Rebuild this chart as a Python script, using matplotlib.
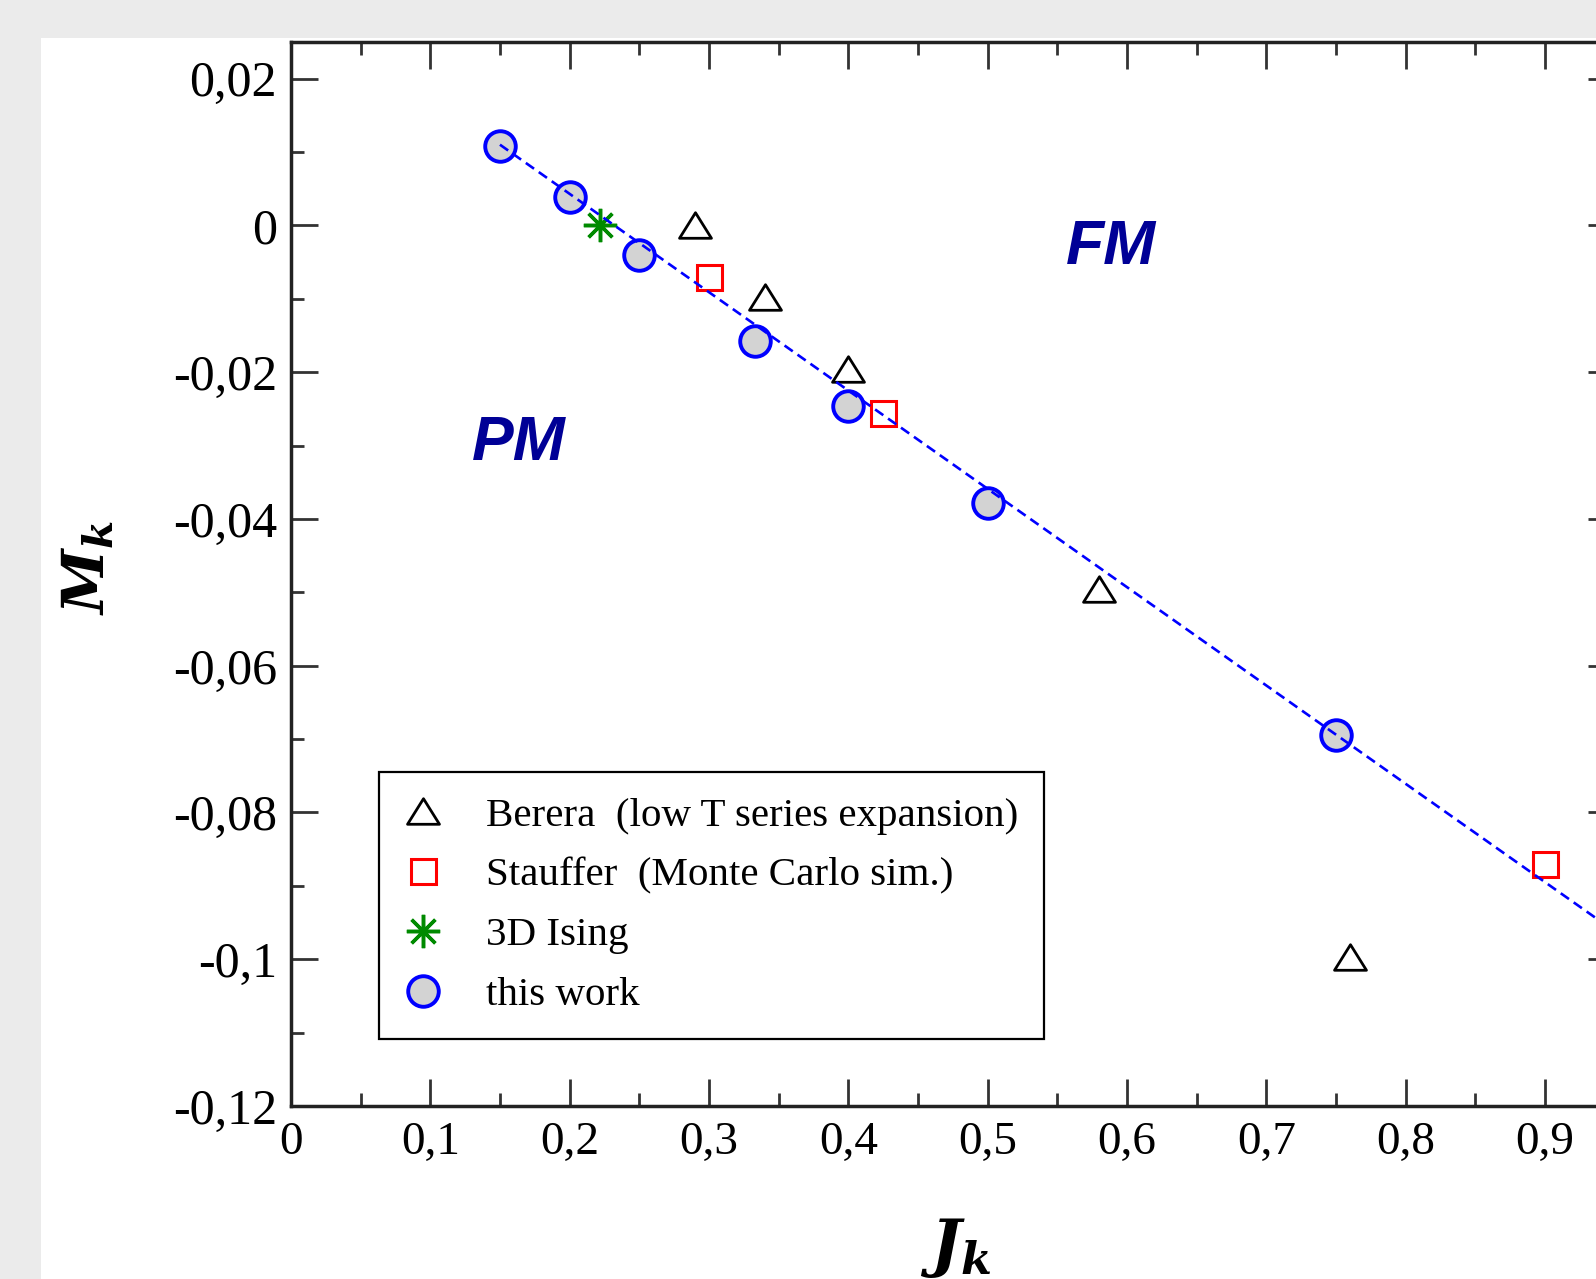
import matplotlib
matplotlib.use("Agg")
import matplotlib.pyplot as plt
from matplotlib.path import Path
from matplotlib.patches import Rectangle
from matplotlib.ticker import MultipleLocator, FuncFormatter

# data (J_k, M_k)
berera_j = [0.29, 0.34, 0.40, 0.58, 0.76]
berera_m = [0.0, -0.0097, -0.0196, -0.0495, -0.0997]

stauffer_j = [0.30, 0.425, 0.90]
stauffer_m = [-0.0071, -0.0255, -0.0870]

ising_j = [0.2216]
ising_m = [0.0]

work_j = [0.15, 0.20, 0.25, 0.3333, 0.40, 0.50, 0.75]
work_m = [0.0108, 0.0039, -0.0040, -0.0157, -0.0246, -0.0378, -0.0695]

fit_j = [0.15, 0.95]
fit_m = [0.0110, -0.0962]

labels = ["Berera  (low T series expansion)", "Stauffer  (Monte Carlo sim.)",
          "3D Ising", "this work"]

plt.rcParams['mathtext.fontset'] = 'custom'
plt.rcParams['mathtext.it'] = 'DejaVu Serif:italic:bold'
plt.rcParams['mathtext.rm'] = 'DejaVu Serif:bold'

fig = plt.figure(figsize=(15.96, 12.79), dpi=100)
fig.patch.set_facecolor('#ebebeb')
# white page area, gray strip left and top
fig.add_artist(Rectangle((41 / 1596, 0), 1, 1 - 38 / 1279, transform=fig.transFigure,
                         facecolor='white', edgecolor='none', zorder=-10))

ax = fig.add_axes([0.1823, 0.1353, 0.8294, 0.8319])
ax.patch.set_alpha(0)

# wider-than-tall triangle
tri = Path([(-1, -0.8), (1, -0.8), (0, 0.8), (-1, -0.8)], closed=True)

ax.plot(berera_j, berera_m, ls='none', marker=tri, ms=23, mfc='none', mec='black',
        mew=2, label=labels[0], zorder=3)
ax.plot(stauffer_j, stauffer_m, ls='none', marker='s', ms=18, mfc='none', mec='red',
        mew=2.2, label=labels[1], zorder=3)
ax.plot(ising_j, ising_m, ls='none', marker=(8, 2, 0), ms=24, mec='#008a00',
        mew=2.5, label=labels[2], zorder=3)
ax.plot(work_j, work_m, ls='none', marker='o', ms=22, mfc='#d3d3d3', mec='blue',
        mew=2.8, label=labels[3], zorder=3)
ax.plot(fit_j, fit_m, color='blue', lw=1.9, ls=(0, (3.8, 2.2)), zorder=4)

ax.set_xlim(0, 0.95)
ax.set_ylim(-0.12, 0.025)

fmt = FuncFormatter(lambda v, p: ('%g' % (round(v, 6) + 0.0)).replace('.', ','))
ax.xaxis.set_major_locator(MultipleLocator(0.1))
ax.xaxis.set_minor_locator(MultipleLocator(0.05))
ax.yaxis.set_major_locator(MultipleLocator(0.02))
ax.yaxis.set_minor_locator(MultipleLocator(0.01))
ax.xaxis.set_major_formatter(fmt)
ax.yaxis.set_major_formatter(fmt)

ax.tick_params(which='both', direction='in', top=True, right=True, width=2, color='#333333')
ax.tick_params(which='major', length=19.5)
ax.tick_params(which='minor', length=9.5)
ax.tick_params(axis='y', pad=10)
ax.tick_params(axis='x', pad=11)
for lab in ax.get_xticklabels():
    lab.set_fontfamily('Liberation Serif')
    lab.set_fontsize(34)
for lab in ax.get_yticklabels():
    lab.set_fontfamily('Liberation Serif')
    lab.set_fontsize(36)
for sp in ax.spines.values():
    sp.set_linewidth(2.5)
    sp.set_color('#222222')

ax.set_xlabel('$J_k$', fontsize=46, va='top')
ax.xaxis.set_label_coords(0.502, -0.103)
ax.set_ylabel('$M_k$', fontsize=42, va='center')
ax.yaxis.set_label_coords(-0.154, 0.506)

ax.text(0.5885, -0.0052, 'FM', color='#000096', fontsize=45, fontfamily='Liberation Sans',
        fontweight='bold', fontstyle='italic', ha='center', va='baseline')
ax.text(0.1637, -0.0320, 'PM', color='#000096', fontsize=45, fontfamily='Liberation Sans',
        fontweight='bold', fontstyle='italic', ha='center', va='baseline')

leg = ax.legend(loc='upper left', bbox_to_anchor=(0.0663, 0.3143), borderaxespad=0,
                prop={'family': 'Liberation Serif', 'size': 29.5}, frameon=True, fancybox=False,
                borderpad=0.62, labelspacing=0.54, handlelength=0.94, handletextpad=1.07,
                framealpha=1)
leg.get_frame().set_edgecolor('black')
leg.get_frame().set_linewidth(1.6)

fig.savefig('out.png', dpi=100, facecolor=fig.get_facecolor())
